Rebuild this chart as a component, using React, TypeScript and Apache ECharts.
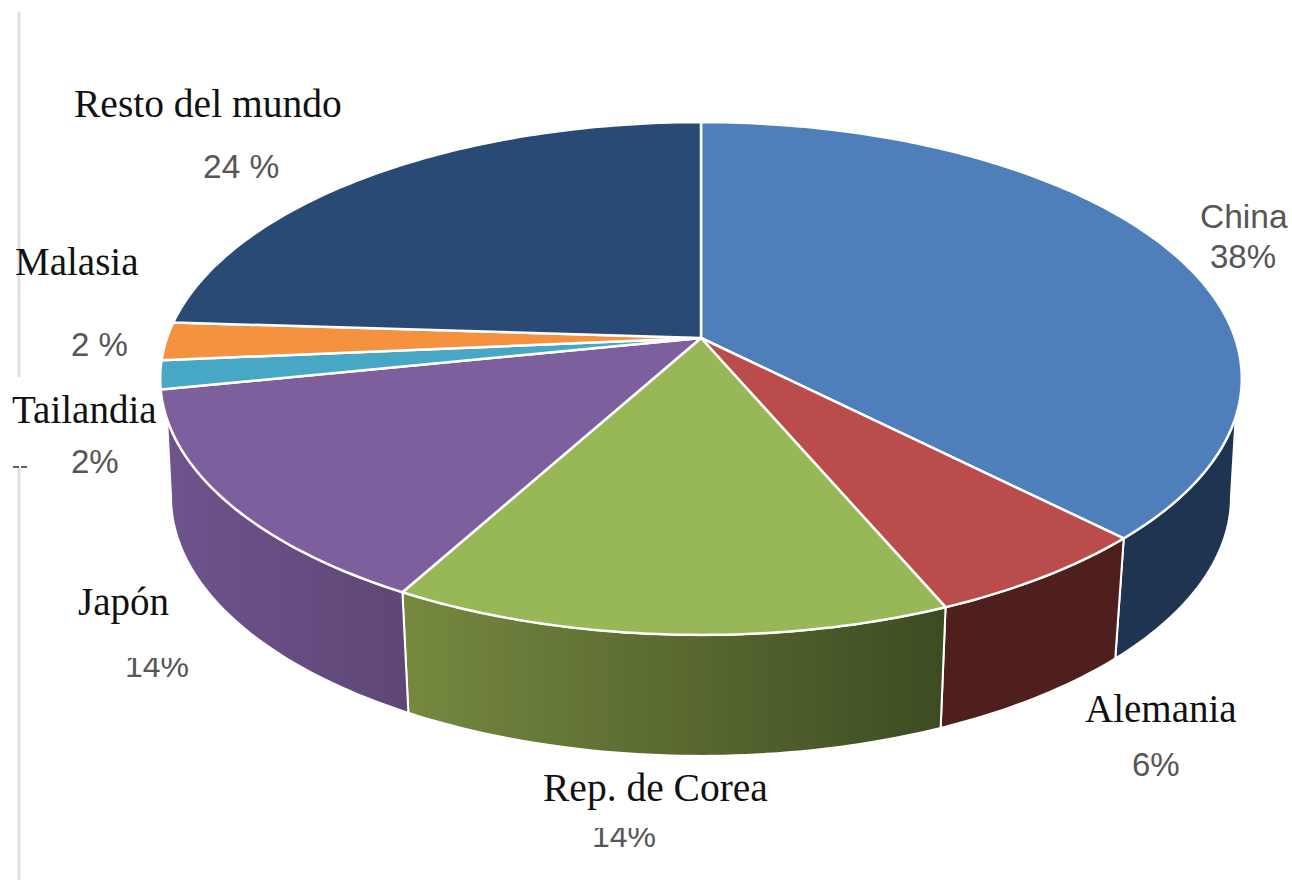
import React, { useEffect, useRef } from "react";
import * as echarts from "echarts";

const categories = ["China", "Alemania", "Rep. de Corea", "Japón", "Tailandia", "Malasia", "Resto del mundo"];
// Each rounds to its printed label.
const shares = [37.6, 6.0, 14.4, 13.8, 1.8, 2.4, 24.0];
const shareLabels = ["38%", "6%", "14%", "14%", "2%", "2 %", "24 %"];
const topColors = ["#4F7FBA", "#BA4D4B", "#98B757", "#7E5F9D", "#46A8C4", "#F4923F", "#284A75"];
const wallColors: [string, string][] = [
  ["#1E3450", "#1E3450"],
  ["#4F1F1E", "#4F1F1E"],
  ["#76893F", "#3D4B22"],
  ["#6F538D", "#5E4676"],
  ["#2E6F82", "#2E6F82"],
  ["#A8632B", "#A8632B"],
  ["#1B3250", "#1B3250"],
];

const SERIF = '"Liberation Serif", serif';
const SANS = '"Liberation Sans", sans-serif';

// perspective projection of the pie disc
const CX = 701, CY = 338, RX = 534, RY = 250, K = 0.158;
const DEPTH = 118, SHRINK = 0.98, BOTTOM_Y = 1.01;
const WALL_TOP: [number, number] = [107.5, 252];
const WALL_BOTTOM: [number, number] = [99, 261];

const total = shares.reduce((a, b) => a + b, 0);
const spans: [number, number][] = [];
{
  let acc = 0;
  for (const v of shares) {
    spans.push([(acc / total) * 360, ((acc + v) / total) * 360]);
    acc += v;
  }
}

function project(deg: number, bottom = false): number[] {
  const t = (deg * Math.PI) / 180;
  const x = Math.sin(t), y = -Math.cos(t);
  const d = 1 - K * y;
  const px = (RX * x) / d, py = (RY * y) / d;
  return bottom ? [CX + SHRINK * px, CY + DEPTH + BOTTOM_Y * py] : [CX + px, CY + py];
}

function arc(a: number, b: number, bottom = false): number[][] {
  const n = Math.max(2, Math.ceil(Math.abs(b - a)));
  const pts: number[][] = [];
  for (let i = 0; i <= n; i++) pts.push(project(a + ((b - a) * i) / n, bottom));
  return pts;
}

function renderWall(params: any) {
  const i = params.dataIndex;
  const [s, e] = spans[i];
  if (e <= WALL_TOP[0] || s >= WALL_TOP[1]) return { type: "group", children: [] };
  const topS = Math.max(s, WALL_TOP[0]), topE = Math.min(e, WALL_TOP[1]);
  const botS = s <= WALL_TOP[0] ? WALL_BOTTOM[0] : s;
  const botE = e >= WALL_TOP[1] ? WALL_BOTTOM[1] : e;
  const points = [...arc(topS, topE), ...arc(botE, botS, true)];
  return {
    type: "polygon",
    shape: { points },
    style: {
      fill: new echarts.graphic.LinearGradient(0, 0, 1, 0, [
        { offset: 0, color: wallColors[i][0] },
        { offset: 1, color: wallColors[i][1] },
      ]),
      stroke: "#fff",
      lineWidth: 2,
      lineJoin: "round",
    },
  };
}

function renderTop(params: any) {
  const i = params.dataIndex;
  const [s, e] = spans[i];
  return {
    type: "polygon",
    shape: { points: [[CX, CY], ...arc(s, e)] },
    style: { fill: topColors[i], stroke: "#fff", lineWidth: 2.5, lineJoin: "round" },
  };
}

function label(text: string, x: number, base: number, size: number, family: string, fill: string, z = 30) {
  return {
    type: "text",
    z,
    x,
    y: base - size * 0.33,
    style: { text, fill, font: `${size}px ${family}`, align: "left", verticalAlign: "middle" },
  };
}

const whiteBox = (x: number, y: number, w: number, h: number) => ({
  type: "rect",
  z: 25,
  shape: { x, y, width: w, height: h },
  style: { fill: "#fff" },
});

const rule = (y1: number, y2: number) => ({
  type: "line",
  z: 1,
  shape: { x1: 19, y1, x2: 19, y2 },
  style: { stroke: "#DFDFDF", lineWidth: 3 },
});

export default function App() {
  const ref = useRef<HTMLDivElement>(null);
  useEffect(() => {
    const chart = echarts.init(ref.current!, undefined, { renderer: "svg" });
    const grey = "#565656";
    const black = "#111";
    chart.setOption({
      animation: false,
      backgroundColor: "#fff",
      series: [
        { type: "custom", coordinateSystem: "none", z: 2, silent: true, data: shares, renderItem: (p: any) => renderWall(p) },
        { type: "custom", coordinateSystem: "none", z: 3, silent: true, data: shares, renderItem: (p: any) => renderTop(p) },
      ],
      graphic: {
        elements: [
          rule(12, 377),
          rule(467, 880),
          {
            type: "line",
            z: 1,
            shape: { x1: 13, y1: 467, x2: 27, y2: 467 },
            style: { stroke: "#333", lineWidth: 1.5, lineDash: [6, 2] },
          },
          label(categories[6], 74, 117, 39.5, SERIF, black),
          label(shareLabels[6], 203, 178, 33.5, SANS, grey),
          label(categories[5], 15, 274, 39, SERIF, black),
          label(shareLabels[5], 71, 355, 33, SANS, grey),
          label(categories[4], 12, 422, 39, SERIF, black),
          label(shareLabels[4], 71, 472, 33, SANS, grey),
          label(categories[3], 78, 614, 39, SERIF, black),
          label(shareLabels[3], 125, 677, 32, SANS, grey, 20),
          whiteBox(115, 636, 85, 22),
          label(categories[2], 543, 801, 39.5, SERIF, black),
          label(shareLabels[2], 592, 847, 32, SANS, grey, 20),
          whiteBox(585, 812, 80, 16),
          label(categories[1], 1085, 721, 39, SERIF, black),
          label(shareLabels[1], 1132, 775, 33, SANS, grey),
          label(categories[0], 1200, 228, 33.5, SANS, grey),
          label(shareLabels[0], 1210, 267, 33, SANS, grey),
        ],
      },
    });
    return () => chart.dispose();
  }, []);
  return <div ref={ref} style={{ position: "absolute", left: 0, top: 0, width: 1292, height: 880 }} />;
}
